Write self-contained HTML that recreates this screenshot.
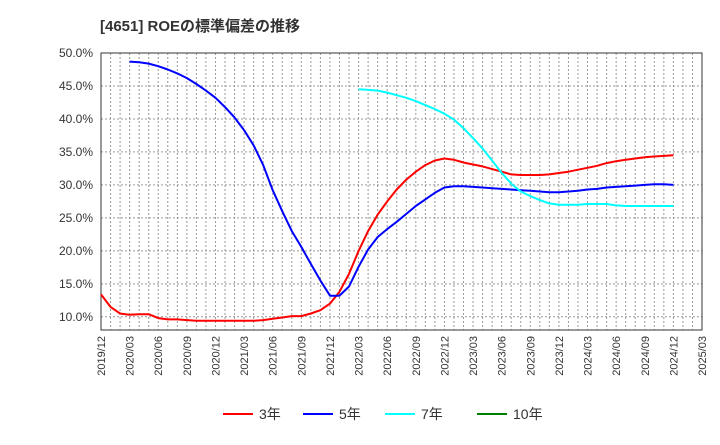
<!DOCTYPE html>
<html><head><meta charset="utf-8"><style>
body{margin:0;background:#fff;}
svg text{font-family:"Liberation Sans","Noto Sans CJK JP",sans-serif;}
</style></head><body>
<svg id="chart" width="720" height="440">
<text x="100" y="31" font-size="15" font-weight="bold" fill="#333">[4651]  ROEの標準偏差の推移</text>
<g id="grid"></g><g id="axes"></g><g id="series"></g><g id="legend"></g>
</svg>
<script>
const yTicks=[10,15,20,25,30,35,40,45,50];
const xTickLabels=["2019/12","2020/03","2020/06","2020/09","2020/12","2021/03","2021/06","2021/09","2021/12","2022/03","2022/06","2022/09","2022/12","2023/03","2023/06","2023/09","2023/12","2024/03","2024/06","2024/09","2024/12","2025/03"];
const seriesNames=["3年","5年","7年","10年"];
const seriesColors=["#ff0000","#0000ff","#00ffff","#008000"];
const seriesStart=[0,3,27,0];
const s3=[13.4,11.5,10.5,10.3,10.4,10.4,9.8,9.6,9.6,9.5,9.4,9.4,9.4,9.4,9.4,9.4,9.4,9.5,9.7,9.9,10.1,10.1,10.5,11.0,12.0,13.8,16.5,20.0,23.0,25.5,27.5,29.3,30.8,32.0,33.0,33.7,34.0,33.8,33.4,33.1,32.8,32.4,32.0,31.6,31.5,31.5,31.5,31.6,31.8,32.0,32.3,32.6,32.9,33.3,33.6,33.8,34.0,34.2,34.3,34.4,34.5];
const s5=[48.7,48.6,48.4,48.0,47.5,46.9,46.2,45.3,44.3,43.2,41.8,40.2,38.3,36.0,33.0,29.2,26.0,23.0,20.6,18.0,15.5,13.2,13.2,14.6,17.6,20.2,22.1,23.3,24.4,25.6,26.8,27.8,28.8,29.6,29.8,29.8,29.7,29.6,29.5,29.4,29.3,29.2,29.1,29.0,28.9,28.9,29.0,29.1,29.3,29.4,29.6,29.7,29.8,29.9,30.0,30.1,30.1,30.0];
const s7=[44.5,44.4,44.3,44.0,43.6,43.2,42.7,42.1,41.5,40.8,39.9,38.6,37.1,35.5,33.7,31.8,30.2,29.0,28.3,27.7,27.2,27.0,27.0,27.0,27.1,27.1,27.1,26.9,26.8,26.8,26.8,26.8,26.8,26.8];
const s10=[];
const L=101,R=702,T=53,B=330,yMin=8,yMax=50,nMonths=63;
const X=i=>L+(R-L)*i/nMonths;
const Y=v=>B-(B-T)*(v-yMin)/(yMax-yMin);
const NS="http://www.w3.org/2000/svg";
function mk(tag,attrs,parent){const e=document.createElementNS(NS,tag);for(const k in attrs)e.setAttribute(k,attrs[k]);parent.appendChild(e);return e;}
const grid=document.getElementById('grid'),axes=document.getElementById('axes'),ser=document.getElementById('series'),leg=document.getElementById('legend');
for(let m=0;m<=nMonths;m++){const l=mk('line',{x1:X(m),x2:X(m),y1:T,y2:B,stroke:'#999','stroke-dasharray':'2,2','stroke-width':1},grid);

}
yTicks.forEach(v=>{const l=mk('line',{x1:L,x2:R,y1:Y(v),y2:Y(v),stroke:'#999','stroke-dasharray':'2,2','stroke-width':1},grid);


const t=mk('text',{x:L-8,y:Y(v)+4,'text-anchor':'end','font-size':12,fill:'#333'},axes);
t.textContent=v.toFixed(1)+'%';

});
xTickLabels.forEach((s,i)=>{const x=X(i*3);const t=mk('text',{x:0,y:0,'text-anchor':'end','font-size':11,fill:'#333',transform:`translate(${x+4},${B+6}) rotate(-90)`},axes);
t.textContent=s;

});
const fr=mk('rect',{x:L,y:T,width:R-L,height:B-T,fill:'none',stroke:'#333','stroke-width':1},axes);


[s3,s5,s7,s10].forEach((d,k)=>{if(!d.length)return;const pts=d.map((v,i)=>X(seriesStart[k]+i).toFixed(1)+','+Y(v).toFixed(1)).join(' ');
const p=mk('polyline',{points:pts,fill:'none',stroke:seriesColors[k],'stroke-width':2,'stroke-linejoin':'round'},ser);

});
const lx=[223,303,385,477];
seriesNames.forEach((n,k)=>{const g=mk('g',{},leg);


mk('line',{x1:lx[k],x2:lx[k]+30,y1:414,y2:414,stroke:seriesColors[k],'stroke-width':2},g);
const t=mk('text',{x:lx[k]+36,y:419,'font-size':14,fill:'#333'},g);t.textContent=n;});
</script>
</body></html>
